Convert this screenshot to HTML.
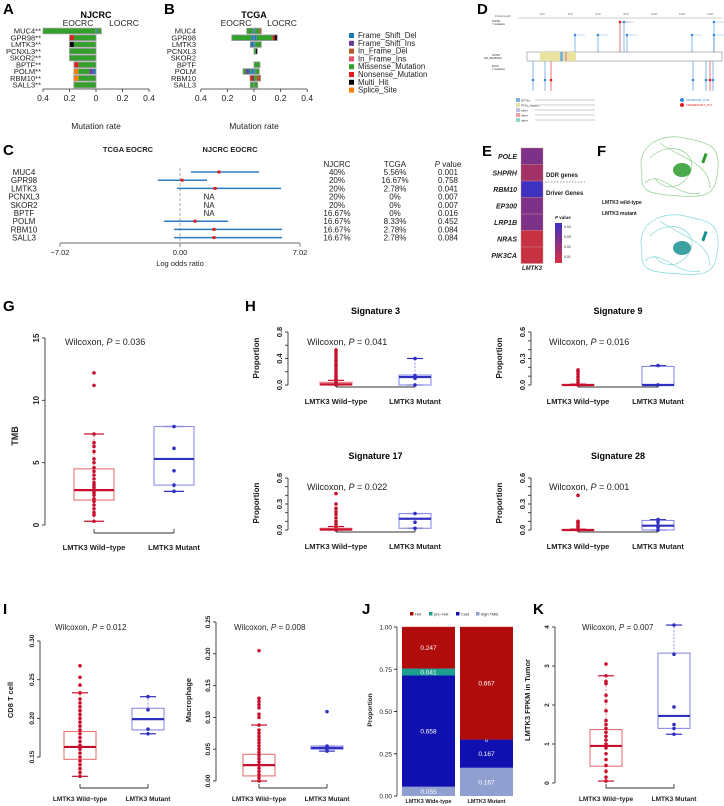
<!DOCTYPE html>
<html><head><meta charset="utf-8"><style>
html,body{margin:0;padding:0;background:#fff;}
svg{display:block;font-family:"Liberation Sans",Arial,sans-serif;}
</style></head><body>
<svg id="fig" width="724" height="806" viewBox="0 0 724 806" xmlns="http://www.w3.org/2000/svg"></svg>
<script>
// ---------- DATA ----------
const genes = ['MUC4','GPR98','LMTK3','PCNXL3','SKOR2','BPTF','POLM','RBM10','SALL3'];
const geneLabelsA = ['MUC4**','GPR98**','LMTK3**','PCNXL3**','SKOR2**','BPTF**','POLM**','RBM10**','SALL3**'];
const mutTypes = ['Frame_Shift_Del','Frame_Shift_Ins','In_Frame_Del','In_Frame_Ins','Missense_Mutation','Nonsense_Mutation','Multi_Hit','Splice_Site'];
const aLeft = [[[4,0.40]],[[4,0.167],[5,0.033]],[[4,0.167],[6,0.033]],[[4,0.2]],[[4,0.2]],[[4,0.133],[5,0.033]],[[0,0.025],[1,0.025],[4,0.085],[7,0.032]],[[4,0.133],[7,0.034]],[[4,0.167]]];
const aRight = [[[0,0.01],[4,0.03]],[],[],[],[],[],[],[],[]];
const bLeft = [[[0,0.01],[4,0.045]],[[0,0.02],[4,0.147]],[[0,0.028]],[],[],[],[[0,0.02],[4,0.008],[0,0.01],[1,0.025],[4,0.02]],[[6,0.01],[5,0.02]],[[4,0.028]]];
const bRight = [[[0,0.01],[4,0.03],[2,0.015]],[[0,0.02],[4,0.12],[5,0.015],[6,0.02]],[[0,0.01],[4,0.045]],[[4,0.015],[6,0.01]],[],[[4,0.045]],[[0,0.01],[4,0.03]],[[4,0.02],[2,0.03]],[[4,0.028]]];
const rateTicks = ['0.4','0.2','0','0.2','0.4'];
const orLow = [0.64,-1.29,-0.18,null,null,null,-0.94,-0.35,-0.35];
const orHigh = [4.62,1.58,5.91,null,null,null,2.81,5.97,5.97];
const orPoint = [2.28,0.12,2.05,null,null,null,0.88,1.99,1.99];
const njcrcPct = ['40%','20%','20%','20%','20%','16.67%','16.67%','16.67%','16.67%'];
const tcgaPct = ['5.56%','16.67%','2.78%','0%','0%','0%','8.33%','2.78%','2.78%'];
const pVals = ['0.001','0.758','0.041','0.007','0.007','0.016','0.452','0.084','0.084'];
const heatGenes = ['POLE','SHPRH','RBM10','EP300','LRP1B','NRAS','PIK3CA'];
const heatP = [0.028,0.018,0.044,0.028,0.028,0.008,0.008];
// boxplots: [lowWhisker, q1, median, q3, highWhisker]
const gWT = [0.3,2.0,2.8,4.5,7.3], gWTpts = [0.3,0.8,1.0,1.3,1.6,1.9,2.1,2.4,2.6,2.8,3.0,3.2,3.4,3.7,4.0,4.3,4.6,5.0,5.3,5.9,6.3,6.6,7.3,11.2,12.2];
const gMut = [2.7,3.2,5.3,7.9,7.9], gMutPts = [2.7,3.2,4.35,6.15,7.9];
const s3WT = [0,0,0.01,0.04,0.07], s3WTpts = [0,0.02,0.05,0.08,0.1,0.13,0.16,0.2,0.24,0.28,0.31,0.35,0.38,0.42,0.46,0.5,0.53];
const s3Mut = [0,0,0.12,0.15,0.4], s3MutPts = [0,0.1,0.12,0.14,0.4];
const s9WT = [0,0,0,0.005,0.01], s9WTpts = [0,0.03,0.06,0.09,0.12,0.15,0.17];
const s9Mut = [0,0,0,0.21,0.22], s9MutPts = [0,0.22];
const s17WT = [0,0,0.005,0.02,0.04], s17WTpts = [0,0.04,0.07,0.1,0.14,0.18,0.21,0.25,0.3,0.42];
const s17Mut = [0.02,0.02,0.13,0.19,0.19], s17MutPts = [0.02,0.09,0.19];
const s28WT = [0,0,0,0.005,0.01], s28WTpts = [0,0.03,0.05,0.07,0.09,0.1,0.4];
const s28Mut = [0,0,0.05,0.11,0.12], s28MutPts = [0,0.03,0.05,0.09,0.12];
const cdWT = [0.125,0.147,0.163,0.183,0.233], cdWTpts = [0.125,0.13,0.135,0.14,0.145,0.15,0.155,0.16,0.165,0.17,0.175,0.18,0.185,0.19,0.195,0.2,0.205,0.21,0.215,0.22,0.225,0.233,0.243,0.253,0.268];
const cdMut = [0.180,0.185,0.199,0.213,0.228], cdMutPts = [0.18,0.186,0.211,0.228];
const maWT = [0,0.008,0.025,0.042,0.088], maWTpts = [0,0.005,0.01,0.015,0.02,0.025,0.03,0.035,0.04,0.045,0.05,0.055,0.06,0.065,0.07,0.075,0.08,0.088,0.1,0.105,0.115,0.12,0.125,0.13,0.205];
const maMut = [0.047,0.05,0.052,0.055,0.055], maMutPts = [0.047,0.05,0.052,0.055,0.109];
const kWT = [0.05,0.43,0.95,1.37,2.75], kWTpts = [0.05,0.15,0.3,0.45,0.6,0.75,0.9,1.0,1.1,1.2,1.3,1.4,1.5,1.6,1.85,2.1,2.25,2.55,2.6,2.75,3.05];
const kMut = [1.25,1.4,1.72,3.33,4.05], kMutPts = [1.25,1.4,1.5,1.95,3.3,4.05];
const jGroups = ['LMTK3 Wide-type','LMTK3 Mutant'];
const jCats = ['high TMB','Cold','pre-Hot','Hot'];
const jWT = [0.055,0.658,0.041,0.247];
const jMut = [0.167,0.167,0,0.667];
const jLabelsWT = ['0.055','0.658','0.041','0.247'];
const jLabelsMut = ['0.167','0.167','0','0.667'];

// ---------- HELPERS ----------
const NS='http://www.w3.org/2000/svg';
const svg=document.getElementById('fig');
function mk(tag,attrs,parent){const e=document.createElementNS(NS,tag);for(const k in attrs)e.setAttribute(k,attrs[k]);(parent||svg).appendChild(e);return e;}
function tx(x,y,s,attrs,parent){const a=Object.assign({x:x,y:y,'font-size':9,fill:'#222'},attrs||{});const e=mk('text',a,parent);e.textContent=s;return e;}
const mutColors=['#1f78b4','#6a3d9a','#b15928','#e8506a','#33a02c','#e31a1c','#000000','#ff7f00'];
const RED='#c8102e',REDL='#e57373',BLUE='#3030c0',BLUEL='#8c8ce6';

// panel letters
[['A',3,14],['B',164,14],['C',3,155],['D',477,14],['E',482,156],['F',597,156],['G',3,311],['H',245,311],['I',3,614],['J',362,614],['K',533,614]].forEach(l=>{
  const t=tx(l[1],l[2],l[0],{'font-size':15,'font-weight':'bold',fill:'#000'});
  
  
});

// ---------- A / B ----------
function oncoBar(zero,pxPer,labels,left,right,title,name,labelX){
  const g=mk('g',{});
  
  
  const rowY=i=>31+i*6.75;
  const t=tx(zero,18,title,{'font-size':9,'font-weight':'bold','text-anchor':'middle',fill:'#000'},g);
  
  
  tx(zero-18,26,'EOCRC',{'font-size':8.5,'text-anchor':'middle'},g);
  tx(zero+28,26,'LOCRC',{'font-size':8.5,'text-anchor':'middle'},g);
  labels.forEach((lb,i)=>{
    const l=tx(labelX,rowY(i)+2.7,lb,{'font-size':7.5,'text-anchor':'end'},g);
    
    
    [[left[i],-1],[right[i],1]].forEach(([segs,dir])=>{
      let acc=0;
      segs.forEach(s=>{
        const w=s[1]*pxPer;const x=dir<0?zero-(acc+s[1])*pxPer:zero+acc*pxPer;
        const r=mk('rect',{x:x,y:rowY(i)-2.8,width:Math.max(w,0.3),height:5.6,fill:mutColors[s[0]]},g);
        
        
        acc+=s[1];
      });
      if(acc>0){const x=dir<0?zero-acc*pxPer:zero;mk('rect',{x:x,y:rowY(i)-2.8,width:acc*pxPer,height:5.6,fill:'none',stroke:'#999','stroke-width':0.8},g);}
    });
  });
  mk('line',{x1:zero-0.4*pxPer,x2:zero+0.4*pxPer,y1:89,y2:89,stroke:'#333','stroke-width':0.8},g);
  rateTicks.forEach((tk,j)=>{const x=zero+(-0.4+j*0.2)*pxPer;mk('line',{x1:x,x2:x,y1:89,y2:92,stroke:'#333','stroke-width':0.8},g);tx(x,101,tk,{'font-size':8.5,'text-anchor':'middle'},g);});
  const xl=tx(zero,129,'Mutation rate',{'font-size':8.5,'text-anchor':'middle'},g);
  
  
}
oncoBar(96,132.5,geneLabelsA,aLeft,aRight,'NJCRC','panel-a-njcrc',41);
oncoBar(254,133,genes,bLeft,bRight,'TCGA','panel-b-tcga',196);
mutTypes.forEach((m,i)=>{
  const y=38+i*7.8;
  const r=mk('rect',{x:349,y:y-5,width:5,height:5,fill:mutColors[i]});
  
  
  const t=tx(358,y,m,{'font-size':7.8});
  
  
});

// ---------- C ----------
const orX=v=>180+v*120/7.02;
const cRow=i=>172+i*8.2;
tx(128,152,'TCGA EOCRC',{'font-size':7.5,'font-weight':'bold','text-anchor':'middle'});
tx(230,152,'NJCRC EOCRC',{'font-size':7.5,'font-weight':'bold','text-anchor':'middle'});
tx(337,167,'NJCRC',{'font-size':8,'text-anchor':'middle'});
tx(395,167,'TCGA',{'font-size':8,'text-anchor':'middle'});
const ph=tx(448,167,'',{'font-size':8,'text-anchor':'middle'});
ph.innerHTML='<tspan font-style="italic">P</tspan> value';
mk('line',{x1:orX(0),x2:orX(0),y1:168,y2:242,stroke:'#aaa','stroke-dasharray':'3,2','stroke-width':1});
genes.forEach((g,i)=>{
  const y=cRow(i);
  tx(24,y+3,g,{'font-size':8,'text-anchor':'middle'});
  tx(337,y+3,njcrcPct[i],{'font-size':8,'text-anchor':'middle'});
  tx(395,y+3,tcgaPct[i],{'font-size':8,'text-anchor':'middle'});
  tx(448,y+3,pVals[i],{'font-size':8,'text-anchor':'middle'});
  if(orLow[i]===null){tx(orX(1.7),y+3,'NA',{'font-size':8,'text-anchor':'middle'});return;}
  const l=mk('line',{x1:orX(orLow[i]),x2:orX(orHigh[i]),y1:y,y2:y,stroke:'#2b7bbf','stroke-width':1.5});
  
  
  const p=mk('rect',{x:orX(orPoint[i])-1.5,y:y-1.5,width:3,height:3,fill:'#e31a1c'});
  
  
});
mk('line',{x1:orX(-7.02),x2:orX(7.02),y1:243,y2:243,stroke:'#888','stroke-width':1.2});
['\u22127.02','0.00','7.02'].forEach((s,j)=>{const x=orX(-7.02+j*7.02);mk('line',{x1:x,x2:x,y1:243,y2:247,stroke:'#888'});tx(x,255,s,{'font-size':7.5,'text-anchor':'middle'});});
tx(orX(0),266,'Log odds ratio',{'font-size':7.5,'text-anchor':'middle'});

// ---------- D ----------
(function(){
  const g=mk('g',{});
  
  
  tx(495,17,'Protein length',{'font-size':2.5,fill:'#555'},g);
  mk('line',{x1:518,x2:722,y1:18,y2:18,stroke:'#999','stroke-width':0.5},g);
  ['200','400','600','800','1000','1200','1400'].forEach((s,j)=>{const x=542+j*28;tx(x,15,s,{'font-size':3,'text-anchor':'middle',fill:'#777'},g);});
  tx(492,22,'NJCRC',{'font-size':2.5},g);tx(492,25,'7 mutations',{'font-size':2.5},g);
  tx(492,56,'LMTK3',{'font-size':2.5},g);tx(484,59,'NM_001080434',{'font-size':2.5},g);
  tx(492,67,'EOCC',{'font-size':2.5},g);tx(492,70,'7 mutations',{'font-size':2.5},g);
  mk('rect',{x:527,y:52,width:195,height:9,fill:'#fff',stroke:'#888','stroke-width':0.6},g);
  mk('rect',{x:540,y:52,width:36,height:9,fill:'#e8e4a0'},g);
  mk('rect',{x:560,y:52,width:3,height:9,fill:'#7fb5d8'},g);
  mk('rect',{x:565,y:52,width:2,height:9,fill:'#e8a0a0'},g);
  [[575,35,0],[598,35,0],[620,22,1],[624,22,0],[627,35,0],[692,35,0],[714,22,0],[714,35,0]].forEach(d=>{
    const c=d[2]?'#e31a1c':'#3a88d8';
    mk('line',{x1:d[0],x2:d[0],y1:52,y2:d[1],stroke:c,'stroke-width':0.6},g);
    mk('circle',{cx:d[0],cy:d[1],r:1.3,fill:c},g);
    mk('line',{x1:d[0]+2,x2:d[0]+10,y1:d[1],y2:d[1],stroke:c,'stroke-width':0.5,opacity:0.6},g);
  });
  [[533,0],[545,0],[551,1],[693,0],[706,0],[710,1],[713,0]].forEach(d=>{
    const c=d[1]?'#e31a1c':'#3a88d8';
    mk('line',{x1:d[0],x2:d[0],y1:61,y2:91,stroke:c,'stroke-width':0.6},g);
    mk('circle',{cx:d[0],cy:80,r:1.3,fill:c},g);
  });
  [['#7fb5d8','STYKc'],['#e8e4a0','PTKc_Aatyk3'],['#c0c0e0','other'],['#f0a0a0','other'],['#90d8c8','other']].forEach((l,j)=>{
    mk('rect',{x:516,y:98+j*5,width:4,height:4,fill:l[0]},g);
    tx(521,101.5+j*5,l[1],{'font-size':3},g);
    mk('line',{x1:535,x2:595,y1:100+j*5,y2:100+j*5,stroke:'#ccc','stroke-width':1},g);
  });
  mk('circle',{cx:682,cy:100,r:2,fill:'#3a88d8'},g);tx(686,101,'MISSENSE_#=11',{'font-size':3,fill:'#3a88d8'},g);
  mk('circle',{cx:682,cy:105,r:2,fill:'#e31a1c'},g);tx(686,106,'FRAMESHIFT_#=3',{'font-size':3,fill:'#e31a1c'},g);
})();

// ---------- E ----------
function pColor(p){const t=Math.min(1,Math.max(0,(p-0.005)/0.04));const r=Math.round(210-t*150),gg=50,b=Math.round(56+t*140);return `rgb(${r},${gg},${b})`;}
heatGenes.forEach((hg,i)=>{
  const y=148+i*16.5;
  const r=mk('rect',{x:521,y:y,width:22,height:16.5,fill:pColor(heatP[i]),stroke:'#c88','stroke-width':0.4});
  
  
  tx(517,y+11,hg,{'font-size':7,'font-style':'italic','font-weight':'bold','text-anchor':'end'});
});
tx(532,270,'LMTK3',{'font-size':6,'font-style':'italic','font-weight':'bold','text-anchor':'middle'});
tx(546,177,'DDR genes',{'font-size':6,'font-weight':'bold'});
mk('line',{x1:545,x2:585,y1:182,y2:182,stroke:'#777','stroke-dasharray':'1.5,1.5','stroke-width':0.8});
tx(546,195,'Driver Genes',{'font-size':6,'font-weight':'bold'});
const defs=mk('defs',{});
const gr=mk('linearGradient',{id:'pg',x1:0,y1:1,x2:0,y2:0},defs);
mk('stop',{offset:'0','stop-color':'#d83040'},gr);
mk('stop',{offset:'1','stop-color':'#4030c8'},gr);
const cb=mk('rect',{x:555,y:223,width:7,height:40,fill:'url(#pg)'});


const pvt=tx(555,219,'',{'font-size':4.5,'font-weight':'bold'});
pvt.innerHTML='<tspan font-style="italic">P</tspan> value';
['0.04','0.03','0.02','0.01'].forEach((s,j)=>tx(564,228+j*10,s,{'font-size':3.5}));

// ---------- F ----------
(function(){
  const g=mk('g',{});
  
  
  function loopy(cx,cy,col,dark){
    const d=`M${cx-38},${cy+5} C${cx-45},${cy-25} ${cx-15},${cy-35} ${cx+5},${cy-30} S${cx+40},${cy-25} ${cx+38},${cy} S${cx+30},${cy+30} ${cx},${cy+28} S${cx-40},${cy+25} ${cx-38},${cy+5} M${cx-30},${cy-10} C${cx-10},${cy-30} ${cx+20},${cy-15} ${cx+10},${cy+5} S${cx-20},${cy+20} ${cx-25},${cy+10} M${cx-20},${cy-25} C${cx},${cy-10} ${cx+30},${cy-5} ${cx+30},${cy+20} M${cx-35},${cy+15} C${cx-20},${cy} ${cx-5},${cy+30} ${cx+20},${cy+25}`;
    mk('path',{d:d,fill:'none',stroke:col,'stroke-width':0.7},g);
    mk('ellipse',{cx:cx+2,cy:cy+2,rx:9,ry:7,fill:dark,opacity:0.85},g);
    mk('rect',{x:cx+23,y:cy-15,width:3,height:10,fill:dark,transform:`rotate(20 ${cx+24} ${cy-10})`},g);
  }
  loopy(680,168,'#8fd08f','#2a9a2a');
  loopy(680,246,'#80d8d8','#1a9090');
  tx(602,204,'LMTK3 wild-type',{'font-size':5,'font-weight':'bold'},g);
  tx(602,215,'LMTK3 mutant',{'font-size':5,'font-weight':'bold'},g);
})();

// ---------- BOX PLOTS ----------
function boxPanel(o){
  const g=mk('g',{});
  
  
  const ys=o.ys;
  mk('line',{x1:o.ax,x2:o.ax,y1:ys(o.ticks[0]),y2:ys(o.ticks[o.ticks.length-1]),stroke:'#333','stroke-width':0.9},g);
  o.ticks.forEach((t,j)=>{
    const y=ys(t);mk('line',{x1:o.ax-3,x2:o.ax,y1:y,y2:y,stroke:'#333','stroke-width':0.9},g);
    if(o.tickLabels[j]!==''){tx(o.ax-6,y,o.tickLabels[j],{'font-size':o.tfs||7.5,'text-anchor':'middle','font-weight':'bold',transform:`rotate(-90 ${o.ax-6} ${y})`},g);}
  });
  const yl=tx(o.ylx,o.yly,o.ylabel,{'font-size':o.yfs||8,'font-weight':'bold','text-anchor':'middle',transform:`rotate(-90 ${o.ylx} ${o.yly})`},g);
  
  
  mk('line',{x1:o.gx[0],x2:o.gx[1],y1:o.xay,y2:o.xay,stroke:'#333','stroke-width':0.9},g);
  o.gx.forEach((x,j)=>{mk('line',{x1:x,x2:x,y1:o.xay,y2:o.xay-4,stroke:'#333','stroke-width':0.9},g);
    const l=tx(x,o.xly,o.glabels[j],{'font-size':o.gfs||7.5,'font-weight':'bold','text-anchor':'middle'},g);
    
    });
  const w=tx(o.wx,o.wy,'',{'font-size':o.wfs||9,'text-anchor':'start'},g);
  w.innerHTML='Wilcoxon, <tspan font-style="italic">P</tspan> = '+o.p;
  
  
  [[o.s1,o.p1,RED,REDL,o.gx[0]],[o.s2,o.p2,BLUE,BLUEL,o.gx[1]]].forEach(([st,pts,c,cl,cx],k)=>{
    const hw=o.hw;
    mk('line',{x1:cx,x2:cx,y1:ys(st[0]),y2:ys(st[1]),stroke:cl,'stroke-dasharray':'2,1.5','stroke-width':0.9},g);
    mk('line',{x1:cx,x2:cx,y1:ys(st[3]),y2:ys(st[4]),stroke:cl,'stroke-dasharray':'2,1.5','stroke-width':0.9},g);
    mk('line',{x1:cx-hw/2,x2:cx+hw/2,y1:ys(st[0]),y2:ys(st[0]),stroke:c,'stroke-width':1.2},g);
    mk('line',{x1:cx-hw/2,x2:cx+hw/2,y1:ys(st[4]),y2:ys(st[4]),stroke:c,'stroke-width':1.2},g);
    const b=mk('rect',{x:cx-hw,y:ys(st[3]),width:2*hw,height:Math.max(0.5,ys(st[1])-ys(st[3])),fill:'none',stroke:cl,'stroke-width':1.1},g);
    
    
    mk('line',{x1:cx-hw,x2:cx+hw,y1:ys(st[2]),y2:ys(st[2]),stroke:c,'stroke-width':2.2},g);
    pts.forEach(v=>{const pt=mk('circle',{cx:cx,cy:ys(v),r:1.8,fill:c},g);
      
      });
  });
  if(o.title){const t=tx((o.gx[0]+o.gx[1])/2,o.ty,o.title,{'font-size':9,'font-weight':'bold','text-anchor':'middle',fill:'#000'},g);
    
    }
}
const GL=['LMTK3 Wild\u2212type','LMTK3 Mutant'];
boxPanel({name:'panel-g-tmb',ys:v=>525-v*187/15,ax:45,ticks:[0,5,10,15],tickLabels:['0','5','10','15'],tfs:8,ylabel:'TMB',ylx:18,yly:436,yfs:9,gx:[94,174],xay:533,xly:550,glabels:GL,wx:65,wy:345,p:'0.036',s1:gWT,p1:gWTpts,s2:gMut,p2:gMutPts,hw:20});
const sigTicks3=[0,0.2,0.4,0.6,0.8],sigTL3=['0.0','','0.4','','0.8'];
const sigTicks6=[0,0.1,0.2,0.3,0.4,0.5,0.6],sigTL6=['0.0','','','0.3','','','0.6'];
boxPanel({name:'panel-h-signature-3',ys:v=>385-v*53/0.8,ax:288,ticks:sigTicks3,tickLabels:sigTL3,ylabel:'Proportion',ylx:259,yly:358,gx:[336,415],xay:387,xly:404,glabels:GL,wx:307,wy:345,p:'0.041',s1:s3WT,p1:s3WTpts,s2:s3Mut,p2:s3MutPts,hw:16,title:'Signature 3',ty:314});
boxPanel({name:'panel-h-signature-9',ys:v=>385-v*53/0.6,ax:531,ticks:sigTicks6,tickLabels:sigTL6,ylabel:'Proportion',ylx:502,yly:358,gx:[578,658],xay:387,xly:404,glabels:GL,wx:549,wy:345,p:'0.016',s1:s9WT,p1:s9WTpts,s2:s9Mut,p2:s9MutPts,hw:16,title:'Signature 9',ty:314});
boxPanel({name:'panel-h-signature-17',ys:v=>530-v*52/0.6,ax:288,ticks:sigTicks6,tickLabels:sigTL6,ylabel:'Proportion',ylx:259,yly:503,gx:[336,415],xay:532,xly:549,glabels:GL,wx:307,wy:490,p:'0.022',s1:s17WT,p1:s17WTpts,s2:s17Mut,p2:s17MutPts,hw:16,title:'Signature 17',ty:459});
boxPanel({name:'panel-h-signature-28',ys:v=>530-v*52/0.6,ax:531,ticks:sigTicks6,tickLabels:sigTL6,ylabel:'Proportion',ylx:502,yly:503,gx:[578,658],xay:532,xly:549,glabels:GL,wx:549,wy:490,p:'0.001',s1:s28WT,p1:s28WTpts,s2:s28Mut,p2:s28MutPts,hw:16,title:'Signature 28',ty:459});
boxPanel({name:'panel-i-cd8',ys:v=>757-(v-0.15)*773.3,ax:40,ticks:[0.15,0.2,0.25,0.3],tickLabels:['0.15','0.20','0.25','0.30'],tfs:6.5,ylabel:'CD8 T cell',ylx:13,yly:700,yfs:7.5,gx:[80,148],xay:788,xly:801,glabels:GL,gfs:6.5,wx:55,wy:630,wfs:8,p:'0.012',s1:cdWT,p1:cdWTpts,s2:cdMut,p2:cdMutPts,hw:16});
boxPanel({name:'panel-i-macrophage',ys:v=>781-v*636,ax:216,ticks:[0,0.05,0.1,0.15,0.2,0.25],tickLabels:['0.00','0.05','0.10','0.15','0.20','0.25'],tfs:6.5,ylabel:'Macrophage',ylx:191,yly:700,yfs:7.5,gx:[259,327],xay:788,xly:801,glabels:GL,gfs:6.5,wx:234,wy:630,wfs:8,p:'0.008',s1:maWT,p1:maWTpts,s2:maMut,p2:maMutPts,hw:16});
boxPanel({name:'panel-k-fpkm',ys:v=>783-v*39,ax:555,ticks:[0,1,2,3,4],tickLabels:['0','1','2','3','4'],tfs:6.5,ylabel:'LMTK3 FPKM in Tumor',ylx:530,yly:700,yfs:7.5,gx:[606,674],xay:788,xly:801,glabels:GL,gfs:6.5,wx:582,wy:630,wfs:8,p:'0.007',s1:kWT,p1:kWTpts,s2:kMut,p2:kMutPts,hw:16});

// ---------- J ----------
(function(){
  const ys=v=>796-v*169;
  const jColors=['#8f9fd0','#1010b0','#1aa090','#b00c0c'];
  const g=mk('g',{});
  
  
  mk('line',{x1:397,x2:397,y1:ys(0),y2:ys(1),stroke:'#333','stroke-width':0.8},g);
  [0,0.25,0.5,0.75,1].forEach((t,j)=>{mk('line',{x1:394,x2:397,y1:ys(t),y2:ys(t),stroke:'#333'},g);tx(392,ys(t)+2.5,['0.00','0.25','0.50','0.75','1.00'][j],{'font-size':6.5,'text-anchor':'end'},g);});
  const yl=tx(372,710,'Proportion',{'font-size':6.5,'font-weight':'bold','text-anchor':'middle',transform:'rotate(-90 372 710)'},g);
  
  
  [[jWT,jLabelsWT,402],[jMut,jLabelsMut,460]].forEach(([vals,labs,x],k)=>{
    let acc=0;
    vals.forEach((v,i)=>{
      const r=mk('rect',{x:x,y:ys(acc+v),width:53,height:v*169,fill:jColors[i]},g);
      
      
      const yc=v>0?ys(acc+v/2)+2.5:ys(acc)+2.5;
      tx(x+26.5,yc,labs[i],{'font-size':6.5,fill:'#fff','text-anchor':'middle'},g);
      acc+=v;
    });
    tx(x+26.5,803,jGroups[k],{'font-size':5.5,'font-weight':'bold','text-anchor':'middle'},g);
  });
  ['Hot','pre\u2212Hot','Cold','high TMB'].forEach((s,j)=>{
    const x=[410,429,456,476][j];
    mk('rect',{x:x,y:612,width:3.5,height:3.5,fill:jColors[[3,2,1,0][j]]},g);
    const t=tx(x+5,615.5,s,{'font-size':4},g);
    
    
  });
})();
</script>
</body></html>
